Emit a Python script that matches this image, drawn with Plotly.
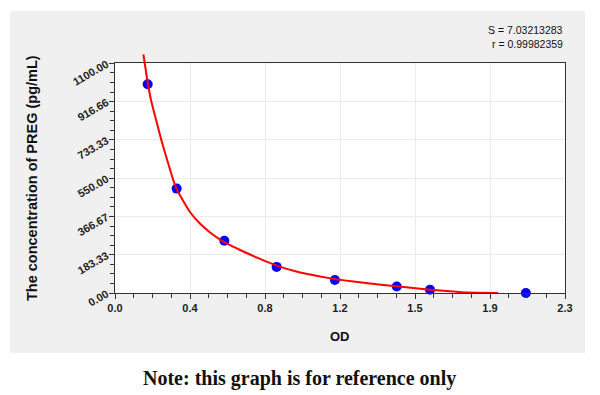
import plotly.graph_objects as go

# Standard points
od_points = [0.167, 0.315, 0.559, 0.826, 1.124, 1.440, 1.610, 2.100]
conc_points = [1000.0, 500.0, 250.0, 125.0, 62.5, 31.25, 15.63, 0.0]

# Fitted curve
curve_od = [0.145, 0.165, 0.184, 0.210, 0.237, 0.267, 0.298, 0.318, 0.332, 0.383, 0.434,
            0.486, 0.537, 0.588, 0.639, 0.741, 0.826, 0.946, 1.048, 1.128, 1.218, 1.303,
            1.440, 1.610, 1.712, 1.800, 1.958]
curve_conc = [1143, 1020, 924, 828, 732, 636, 540, 492, 468, 388, 333,
              290, 256, 229, 206, 163, 131, 98, 79, 66, 55, 45.5,
              32, 16, 8, 2, 0]

x_tickvals = [0, 2.3 / 6, 2 * 2.3 / 6, 3 * 2.3 / 6, 4 * 2.3 / 6, 5 * 2.3 / 6, 2.3]
x_ticktext = ["0.0", "0.4", "0.8", "1.2", "1.5", "1.9", "2.3"]
y_tickvals = [0, 1100 / 6, 2 * 1100 / 6, 3 * 1100 / 6, 4 * 1100 / 6, 5 * 1100 / 6, 1100]
y_ticktext = ["0.00", "183.33", "366.67", "550.00", "733.33", "916.66", "1100.00"]

stat_s = "S = 7.03213283"
stat_r = "r = 0.99982359"
x_title = "OD"
y_title = "The concentration of PREG (pg/mL)"
note = "Note: this graph is for reference only"

DOM_TOP = 0.9453
AX = "#333333"
GRID = "#ebebeb"
TICKFONT = dict(family="Liberation Sans, Arial", size=11, color="#222222", weight="bold")

fig = go.Figure()
fig.add_trace(go.Scatter(x=od_points, y=conc_points, mode="markers",
                         marker=dict(color="#0000ff", size=10, line=dict(width=0)),
                         xaxis="x", yaxis="y", showlegend=False, cliponaxis=False))
fig.add_trace(go.Scatter(x=curve_od, y=curve_conc, mode="lines",
                         line=dict(color="#ff0000", width=2, shape="spline", smoothing=0.3),
                         xaxis="x2", yaxis="y2", showlegend=False))

fig.update_layout(
    width=600, height=395,
    margin=dict(l=115, r=35, t=50, b=102),
    paper_bgcolor="white", plot_bgcolor="rgba(0,0,0,0)",
    xaxis=dict(range=[0, 2.3], domain=[0, 1], anchor="y",
               tickmode="array", tickvals=x_tickvals, ticktext=x_ticktext,
               showgrid=True, gridcolor=GRID, gridwidth=1, zeroline=False,
               showline=True, linecolor=AX, linewidth=1, mirror=True,
               ticks="outside", ticklen=5, tickcolor=AX, tickwidth=1,
               minor=dict(ticks="outside", ticklen=4, tickcolor=AX, dtick=2.3 / 24, tick0=0, showgrid=False),
               tickfont=TICKFONT),
    yaxis=dict(range=[0, 1100], domain=[0, DOM_TOP], anchor="x",
               tickmode="array", tickvals=y_tickvals, ticktext=y_ticktext,
               showgrid=True, gridcolor=GRID, gridwidth=1, zeroline=False,
               showline=True, linecolor=AX, linewidth=1, mirror=True,
               ticks="outside", ticklen=5, tickcolor=AX, tickwidth=1,
               minor=dict(ticks="outside", ticklen=4, tickcolor=AX, dtick=1100 / 24, tick0=0, showgrid=False),
               tickangle=-30, tickfont=TICKFONT),
    xaxis2=dict(range=[0, 2.3], domain=[0, 1], anchor="y2", visible=False),
    yaxis2=dict(range=[0, 1100 / DOM_TOP], domain=[0, 1], anchor="x2", visible=False),
    shapes=[
        dict(type="rect", xref="paper", yref="paper", x0=-0.2333, x1=1.0444, y0=-0.2469, y1=1.1605,
             fillcolor="#f0f0f0", line=dict(width=0), layer="below"),
        dict(type="rect", xref="paper", yref="paper", x0=0, x1=1, y0=0, y1=DOM_TOP,
             fillcolor="white", line=dict(width=0), layer="below"),
    ],
    annotations=[
        dict(text=stat_s, xref="paper", yref="paper", x=1.0, y=1.0823, xanchor="right", yanchor="middle",
             showarrow=False, font=dict(family="Liberation Sans, Arial", size=10.5, color="#111111")),
        dict(text=stat_r, xref="paper", yref="paper", x=1.0, y=1.0247, xanchor="right", yanchor="middle",
             showarrow=False, font=dict(family="Liberation Sans, Arial", size=10.5, color="#111111")),
        dict(text=x_title, xref="paper", yref="paper", x=0.4989, y=-0.18, xanchor="center", yanchor="middle",
             showarrow=False, font=dict(family="Liberation Sans, Arial", size=13, color="#111111", weight="bold")),
        dict(text=y_title, xref="paper", yref="paper", x=-0.1844, y=0.473, xanchor="center", yanchor="middle",
             textangle=-90, showarrow=False,
             font=dict(family="Liberation Sans, Arial", size=14.5, color="#111111", weight="bold")),
        dict(text=note, xref="paper", yref="paper", x=0.4111, y=-0.3498, xanchor="center", yanchor="middle",
             showarrow=False, font=dict(family="Liberation Serif, Times New Roman", size=20, color="#111111", weight="bold")),
    ],
)

fig.write_html("out.html", config={"displayModeBar": False},
               post_script="document.body.style.margin='0';document.body.style.padding='0';")
